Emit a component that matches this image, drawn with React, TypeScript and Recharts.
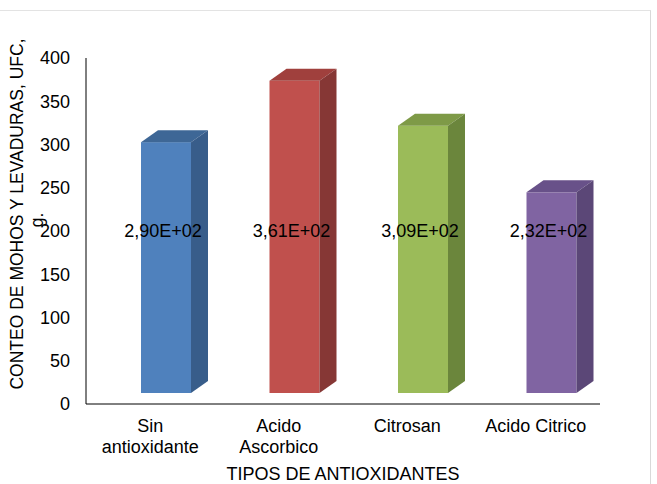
import { BarChart, Bar, XAxis, YAxis, Cell, LabelList, Label } from "recharts";

const categories = ["Sin antioxidante", "Acido Ascorbico", "Citrosan", "Acido Citrico"];
const values = [290, 361, 309, 232];
const valueLabels = ["2,90E+02", "3,61E+02", "3,09E+02", "2,32E+02"];
const yTicks = [0, 50, 100, 150, 200, 250, 300, 350, 400];

// front, top, side colours per bar
const fronts = ["#4F81BD", "#C0504D", "#9BBB59", "#8064A2"];
const tops = ["#3E6796", "#A0403D", "#7E9A47", "#685189"];
const sides = ["#385D8A", "#863735", "#6B863C", "#5B4777"];

const FONT = "'Liberation Sans', Arial, sans-serif";
const FS = 18;
const SHIFT_X = 16;
const SHIFT_Y = 11;
const DEPTH_X = 17;
const DEPTH_Y = 12;

const rows = categories.map((name, i) => ({ name, value: values[i], label: valueLabels[i] }));

const Bar3D = (props: any) => {
  const { x, y, width, height, index } = props;
  const x0 = x + SHIFT_X;
  const x1 = x0 + width;
  const y0 = y - SHIFT_Y;
  const yb = y + height - SHIFT_Y;
  return (
    <g>
      <rect x={x0} y={y0} width={width} height={yb - y0} fill={fronts[index]} />
      <polygon
        points={`${x0},${y0} ${x0 + DEPTH_X},${y0 - DEPTH_Y} ${x1 + DEPTH_X},${y0 - DEPTH_Y} ${x1},${y0}`}
        fill={tops[index]}
      />
      <polygon
        points={`${x1},${y0} ${x1 + DEPTH_X},${y0 - DEPTH_Y} ${x1 + DEPTH_X},${yb - DEPTH_Y} ${x1},${yb}`}
        fill={sides[index]}
      />
    </g>
  );
};

const ValueLabel = (props: any) => {
  const { x, y, width, height, index } = props;
  const cx = x + SHIFT_X + width / 2 - 3;
  const bottom = y + height;
  return (
    <text x={cx} y={bottom - 167} textAnchor="middle" fontSize={FS} fontFamily={FONT} fill="#000">
      {valueLabels[index]}
    </text>
  );
};

// long names wrap onto two lines, like the spreadsheet did
const CategoryTick = (props: any) => {
  const { x, y, payload } = props;
  const name: string = payload.value;
  const lines = name.length > 14 ? name.split(" ") : [name];
  return (
    <text x={x} y={y + 12} textAnchor="middle" fontSize={FS} fontFamily={FONT} fill="#000">
      {lines.map((l, i) => (
        <tspan key={i} x={x} dy={i === 0 ? 0 : 21}>
          {l}
        </tspan>
      ))}
    </text>
  );
};

const YTitle = (props: any) => {
  const { viewBox } = props;
  const cy = viewBox.y + viewBox.height / 2 - 17;
  return (
    <g fontSize={17.5} fontFamily={FONT} fill="#000">
      <text x={23} y={cy} transform={`rotate(-90, 23, ${cy})`} textAnchor="middle">
        CONTEO DE MOHOS Y LEVADURAS, UFC,
      </text>
      <text x={43} y={cy + 6} transform={`rotate(-90, 43, ${cy + 6})`} textAnchor="middle">
        g.
      </text>
    </g>
  );
};

export default function App() {
  return (
    <div style={{ position: "absolute", left: 0, top: 0, width: 657, height: 484, background: "#fff", overflow: "hidden" }}>
      <div
        style={{
          position: "absolute",
          left: -2,
          top: 10,
          width: 652,
          height: 480,
          borderTop: "1px solid #e3e3e3",
          borderRight: "1px solid #d9d9d9",
        }}
      />
      <BarChart
        width={657}
        height={484}
        data={rows}
        margin={{ top: 58, right: 57, bottom: 0, left: 0 }}
        barSize={50}
      >
        <XAxis
          dataKey="name"
          tick={<CategoryTick />}
          tickLine={false}
          axisLine={{ stroke: "#000", strokeWidth: 1 }}
          height={80}
          tickMargin={10}
          interval={0}
        >
          <Label
            value="TIPOS DE ANTIOXIDANTES"
            position="insideBottom"
            offset={4}
            style={{ fontSize: FS, fontFamily: FONT, fill: "#000" }}
          />
        </XAxis>
        <YAxis
          width={86}
          domain={[0, 400]}
          ticks={yTicks}
          tickLine={false}
          axisLine={{ stroke: "#000", strokeWidth: 1 }}
          tickMargin={10}
          tick={{ fontSize: FS, fontFamily: FONT, fill: "#000" }}
          interval={0}
        >
          <Label content={<YTitle />} />
        </YAxis>
        <Bar dataKey="value" shape={<Bar3D />} isAnimationActive={false}>
          {rows.map((r, i) => (
            <Cell key={r.name} fill={fronts[i]} />
          ))}
          <LabelList dataKey="label" content={<ValueLabel />} />
        </Bar>
      </BarChart>
    </div>
  );
}
